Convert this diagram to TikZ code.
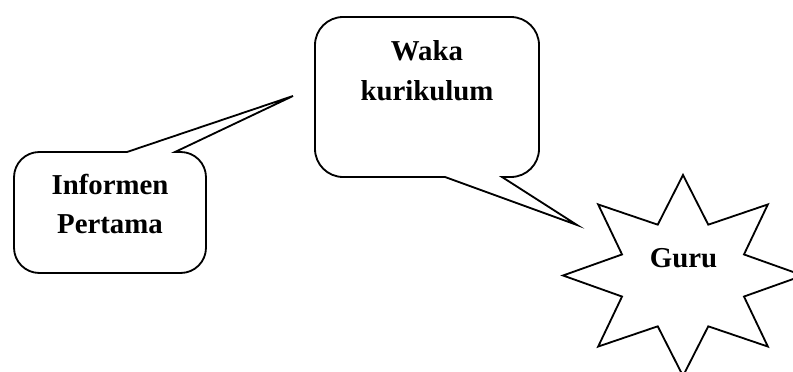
\documentclass[tikz,border=0pt]{standalone}
\usepackage{fontspec}
\setmainfont{Liberation Serif}
\begin{document}
\begin{tikzpicture}[x=0.025cm,y=-0.025cm,line width=1.3pt]
  \tikzset{box text/.style={font=\bfseries\fontsize{20.5}{28}\selectfont, align=center, inner sep=0pt}}
  \useasboundingbox (0,0) rectangle (793,372);
  \clip (0,0) rectangle (793,372);

  % first informant, pointing up to the waka
  \coordinate (info tip) at (293,96);
  \draw[rounded corners=18pt] (175,152) -- (206,152) -- (206,273) -- (14,273) -- (14,152)
    [sharp corners] -- (127,152) -- (info tip) -- cycle;
  \node[box text] (informen) at (110,204) {Informen\\Pertama};

  % waka kurikulum, pointing down to the star
  \coordinate (waka tip) at (577,225);
  \draw[rounded corners=20pt] (502,177) -- (539,177) -- (539,17) -- (315,17) -- (315,177)
    [sharp corners] -- (445,177) -- (waka tip) -- cycle;
  \node[box text] (waka) at (427,70.5) {Waka\\kurikulum};

  % eight pointed star
  \coordinate (guru center) at (683,275.5);
  \draw[shift={(guru center)}] (-90:120 and 100.5)
    \foreach \a in {-90,-45,...,225} { -- (\a+22.5:66 and 55) -- (\a+45:120 and 100.5) } -- cycle;
  \node[box text, anchor=base] (guru) at (683.5,268) {Guru};
\end{tikzpicture}
\end{document}
